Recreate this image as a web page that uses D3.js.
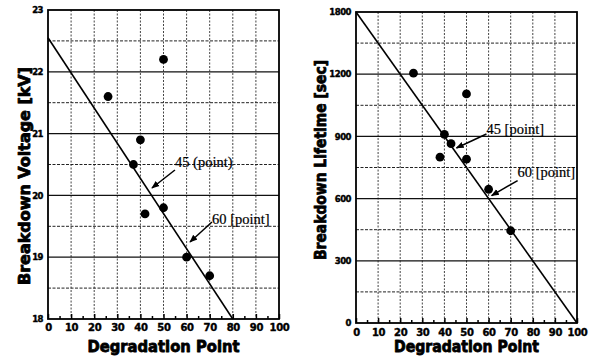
<!DOCTYPE html>
<html>
<head>
<meta charset="utf-8">
<script src="https://cdn.jsdelivr.net/npm/d3@7/dist/d3.min.js"></script>
<style>
  html, body { margin: 0; padding: 0; background: #fff; }
  svg { display: block; }
</style>
</head>
<body>
<svg id="chart" width="594" height="359"></svg>
<script>
// ---- data ----
const xTicks = [0, 10, 20, 30, 40, 50, 60, 70, 80, 90, 100];

// Breakdown voltage vs. degradation point
const voltX = [26, 37, 40, 42, 50, 50, 60, 70];
const voltY = [21.6, 20.5, 20.9, 19.7, 22.2, 19.8, 19.0, 18.7];
const voltFitX = [0, 80];
const voltFitY = [22.55, 18.0];
const voltTicks = [18, 19, 20, 21, 22, 23];
const voltTickLabels = ["18", "19", "20", "21", "22", "23"];

// Breakdown lifetime vs. degradation point
const lifeX = [26, 38, 40, 43, 50, 50, 60, 70];
const lifeY = [1205, 800, 910, 865, 1105, 790, 645, 445];
const lifeFitX = [0, 100];
const lifeFitY = [1500, 0];
const lifeTicks = [0, 300, 600, 900, 1200, 1500];
const lifeTickLabels = ["0", "300", "600", "900", "1200", "1800"];

const voltNotes = ["45 (point)", "60 [point]"];
const lifeNotes = ["45 [point]", "60 [point]"];
const noteAt = [45, 60];

const svg = d3.select("#chart");

const defs = svg.append("defs");
defs.append("marker")
  .attr("id", "arrowHead")
  .attr("viewBox", "0 0 10 10")
  .attr("refX", 9).attr("refY", 5)
  .attr("markerWidth", 8).attr("markerHeight", 8)
  .attr("markerUnits", "userSpaceOnUse")
  .attr("orient", "auto")
  .append("path").attr("d", "M0,1 L10,5 L0,9 Z").attr("fill", "#000");

// heavy sans text (bold fill plus a thin outline for extra weight)
function heavy(sel, size, outline) {
  return sel.attr("font-family", "DejaVu Sans").attr("font-weight", "bold")
    .attr("font-size", size).attr("fill", "#000")
    .attr("stroke", "#000").attr("stroke-width", outline)
    .attr("stroke-linejoin", "round");
}

function panel(cfg) {
  const g = svg.append("g");
  const x = d3.scaleLinear().domain([0, 100]).range([cfg.left, cfg.right]);
  const y = d3.scaleLinear().domain(cfg.yDomain).range([cfg.bottom, cfg.top]);

  // vertical grid
  g.append("g").selectAll("line").data(xTicks.slice(1, -1)).join("line")
    .attr("x1", d => x(d)).attr("x2", d => x(d))
    .attr("y1", cfg.top).attr("y2", cfg.bottom)
    .attr("stroke", "#444").attr("stroke-width", 1)
    .attr("stroke-dasharray", "2,1.5");

  // horizontal grid: major at ticks, minor halfway
  const step = cfg.yTicks[1] - cfg.yTicks[0];
  const minors = cfg.yTicks.slice(0, -1).map(v => v + step / 2);
  g.append("g").selectAll("line").data(cfg.yTicks.slice(1, -1)).join("line")
    .attr("x1", cfg.left).attr("x2", cfg.right)
    .attr("y1", d => y(d)).attr("y2", d => y(d))
    .attr("stroke", "#111").attr("stroke-width", 1.3);
  g.append("g").selectAll("line").data(minors).join("line")
    .attr("x1", cfg.left).attr("x2", cfg.right)
    .attr("y1", d => y(d)).attr("y2", d => y(d))
    .attr("stroke", "#222").attr("stroke-width", 1)
    .attr("stroke-dasharray", "3,1.5");

  // bottom axis with inner ticks
  const xAxis = d3.axisBottom(x).tickValues(d3.range(0, 101, 5))
    .tickSize(0).tickFormat(d => d % 10 === 0 ? d : "");
  const ax = g.append("g").attr("transform", `translate(0,${cfg.bottom})`).call(xAxis);
  ax.select(".domain").remove();
  ax.selectAll(".tick line").attr("y2", d => d % 10 === 0 ? -5 : -3)
    .attr("stroke", "#000").attr("stroke-width", 1.5);
  heavy(ax.selectAll(".tick text").attr("dy", 0).attr("y", cfg.xLabelY), 10, 0.4)
    .attr("letter-spacing", -0.3);

  // left axis labels
  const yAxis = d3.axisLeft(y).tickValues(cfg.yTicks).tickSize(0)
    .tickFormat((d, i) => cfg.yTickLabels[i]);
  const ay = g.append("g").attr("transform", `translate(${cfg.left},0)`).call(yAxis);
  ay.select(".domain").remove();
  heavy(ay.selectAll(".tick text").attr("x", -5).attr("dy", "0.32em"), 8.5, 0.4)
    .attr("letter-spacing", -0.5);

  // frame
  g.append("rect")
    .attr("x", cfg.left).attr("y", cfg.top)
    .attr("width", cfg.right - cfg.left).attr("height", cfg.bottom - cfg.top)
    .attr("fill", "none").attr("stroke", "#000").attr("stroke-width", 1.8);

  // fitted line
  const fit = cfg.fitX.map((v, i) => [v, cfg.fitY[i]]);
  g.append("path").datum(fit)
    .attr("d", d3.line().x(d => x(d[0])).y(d => y(d[1])))
    .attr("fill", "none").attr("stroke", "#000").attr("stroke-width", 1.6);

  // points
  g.append("g").selectAll("circle").data(cfg.px.map((v, i) => [v, cfg.py[i]])).join("circle")
    .attr("cx", d => x(d[0])).attr("cy", d => y(d[1])).attr("r", 4.4)
    .attr("fill", "#000");

  // annotations pointing at the fitted line
  const fitAt = d3.scaleLinear().domain(cfg.fitX).range(cfg.fitY);
  cfg.notes.forEach((txt, i) => {
    const o = cfg.noteOff[i];
    const hx = x(noteAt[i]) + o.hx;
    const hy = y(fitAt(noteAt[i])) + o.hy;
    const tx = hx + o.dx, ty = hy + o.dy;
    g.append("line")
      .attr("x1", tx).attr("y1", ty).attr("x2", hx).attr("y2", hy)
      .attr("stroke", "#000").attr("stroke-width", 1.5)
      .attr("marker-end", "url(#arrowHead)");
    g.append("text")
      .attr("x", tx + o.tx).attr("y", ty + o.ty)
      .attr("font-family", "Liberation Serif").attr("font-size", 14.5)
      .attr("fill", "#000").attr("stroke", "#000").attr("stroke-width", 0.2)
      .text(txt);
  });

  // axis titles
  heavy(g.append("text"), 15, 0.8)
    .attr("x", (cfg.left + cfg.right) / 2).attr("y", 352)
    .attr("text-anchor", "middle")
    .attr("textLength", cfg.xTitleLen).attr("lengthAdjust", "spacingAndGlyphs")
    .text("Degradation Point");
  heavy(g.append("text"), 15.5, 0.8)
    .attr("transform", `translate(${cfg.titleX},${cfg.titleY}) rotate(-90)`)
    .attr("text-anchor", "middle")
    .attr("textLength", cfg.titleLen).attr("lengthAdjust", "spacingAndGlyphs")
    .text(cfg.title);
}

panel({
  left: 48, right: 279, top: 10, bottom: 319, xLabelY: 12,
  yDomain: [18, 23], yTicks: voltTicks, yTickLabels: voltTickLabels,
  px: voltX, py: voltY, fitX: voltFitX, fitY: voltFitY,
  notes: voltNotes,
  noteOff: [
    { hx: 0, hy: -8, dx: 23, dy: -18, tx: 0, ty: -3 },
    { hx: 3.4, hy: -6.7, dx: 22, dy: -20, tx: 0, ty: 2 }
  ],
  xTitleLen: 152, title: "Breakdown Voltage [kV]", titleX: 30, titleY: 176, titleLen: 218
});

panel({
  left: 356, right: 577, top: 12, bottom: 323, xLabelY: 13,
  yDomain: [0, 1500], yTicks: lifeTicks, yTickLabels: lifeTickLabels,
  px: lifeX, py: lifeY, fitX: lifeFitX, fitY: lifeFitY,
  notes: lifeNotes,
  noteOff: [
    { hx: 1, hy: -4, dx: 30, dy: -14, tx: 0, ty: 0 },
    { hx: 3, hy: -3, dx: 26, dy: -15, tx: 0, ty: -4 }
  ],
  xTitleLen: 145, title: "Breakdown Lifetime [sec]", titleX: 326, titleY: 160, titleLen: 200
});
</script>
</body>
</html>
